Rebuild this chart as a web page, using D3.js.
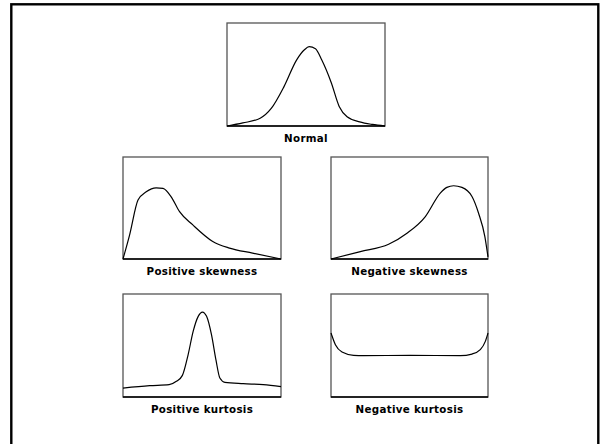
<!DOCTYPE html>
<html>
<head>
<meta charset="utf-8">
<script src="https://cdn.jsdelivr.net/npm/d3@7"></script>
<style>
  html, body { margin: 0; padding: 0; background: #fff; }
  svg { display: block; }
  .label { font-family: "Comic Sans MS", "DejaVu Sans", sans-serif; font-weight: bold; font-size: 10.3px; letter-spacing: 0.3px; fill: #000; }
</style>
</head>
<body>
<svg id="chart" width="600" height="444"></svg>
<script>
// Shape of each distribution: x runs 0..100 across its box, y is the curve height 0..100
const normalX = [0, 10, 21, 28, 36, 44, 49, 52, 56, 60, 66, 71, 76, 84, 92, 100];
const normalY = [0, 3, 7.5, 17, 38, 64, 74, 77, 75, 64, 42, 19, 9, 4, 1.5, 0];

const posSkewX = [0, 4.2, 9.5, 14.7, 21, 25.3, 30.5, 35.8, 44.2, 56.8, 67.4, 82, 100];
const posSkewY = [0, 23.7, 57.8, 65.9, 69.8, 69.2, 61, 46.4, 33.4, 17.2, 10.7, 5.8, 0];

const negSkewX = [0, 18.7, 36.7, 48.4, 60.1, 69.6, 73.8, 78.1, 83.4, 89.8, 94, 98, 100];
const negSkewY = [0, 7.2, 14.4, 25.2, 41.6, 64.6, 70.2, 71.8, 70.2, 61.3, 44.9, 22, 2];

const posKurtX = [0, 16.9, 29.2, 33.8, 37.6, 41.2, 44.4, 47.6, 50.3, 52.9, 56, 58.8, 61.3, 64.5, 76.1, 88.8, 100];
const posKurtY = [8.7, 11, 12, 15.2, 21, 41, 63.7, 78.3, 82.5, 78.3, 60.5, 36.2, 18.4, 14.2, 12.9, 12, 10];

const negKurtX = [0, 2.8, 7, 14.4, 20.8, 50.5, 82.4, 89.8, 95.1, 98.3, 100];
const negKurtY = [62.1, 50.8, 43.7, 40.5, 40.1, 40.5, 40.1, 41.7, 46, 54, 62.1];

const panelTitles = ["Normal", "Positive skewness", "Negative skewness", "Positive kurtosis", "Negative kurtosis"];

const panels = [
  { title: panelTitles[0], xs: normalX,  ys: normalY,  box: [227, 23, 158, 103] },
  { title: panelTitles[1], xs: posSkewX, ys: posSkewY, box: [123, 157, 158, 102] },
  { title: panelTitles[2], xs: negSkewX, ys: negSkewY, box: [331, 157, 157, 102] },
  { title: panelTitles[3], xs: posKurtX, ys: posKurtY, box: [123, 294, 158, 103] },
  { title: panelTitles[4], xs: negKurtX, ys: negKurtY, box: [331, 294, 157, 103] }
];

const svg = d3.select("#chart");

// outer slide frame (open at the bottom edge of the view)
svg.append("rect")
  .attr("x", 11.3).attr("y", 4.3)
  .attr("width", 587).attr("height", 470)
  .attr("fill", "none").attr("stroke", "#000").attr("stroke-width", 2.4);

panels.forEach(p => {
  const [bx, by, bw, bh] = p.box;
  const x = d3.scaleLinear().domain([0, 100]).range([bx, bx + bw]);
  const y = d3.scaleLinear().domain([0, 100]).range([by + bh, by]);
  const g = svg.append("g");

  // box frame
  g.append("rect")
    .attr("x", bx).attr("y", by).attr("width", bw).attr("height", bh)
    .attr("fill", "#fff").attr("stroke", "#555").attr("stroke-width", 1.3);

  // baseline axis
  g.append("line")
    .attr("x1", x(0)).attr("x2", x(100))
    .attr("y1", y(0)).attr("y2", y(0))
    .attr("stroke", "#000").attr("stroke-width", 1.5);

  const pts = p.xs.map((v, i) => [v, p.ys[i]]);
  const line = d3.line()
    .x(d => x(d[0])).y(d => y(d[1]))
    .curve(d3.curveMonotoneX);

  g.append("path")
    .attr("d", line(pts))
    .attr("fill", "none").attr("stroke", "#000").attr("stroke-width", 1.2);

  g.append("text")
    .attr("class", "label")
    .attr("x", bx + bw / 2).attr("y", by + bh + 15.5)
    .attr("text-anchor", "middle")
    .text(p.title);
});
</script>
</body>
</html>
